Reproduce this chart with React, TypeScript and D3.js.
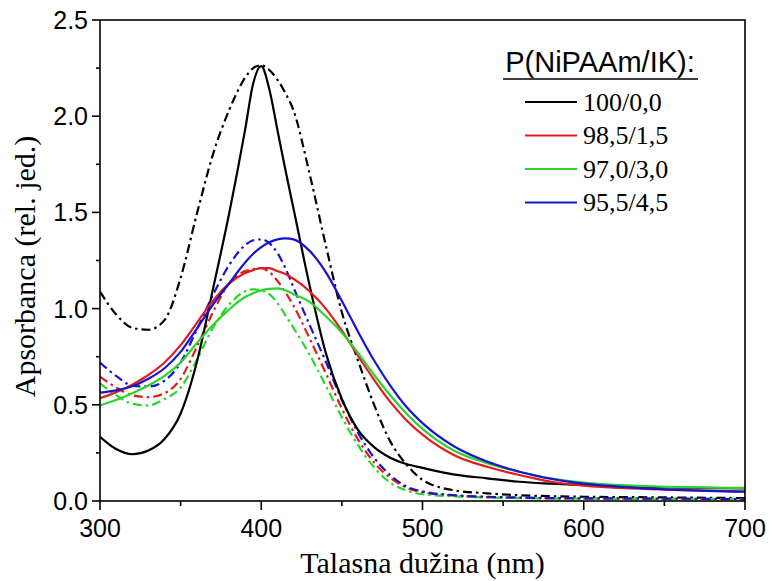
import React from "react";
import * as d3 from "d3";

const wavelengths = [300, 310, 320, 330, 340, 350, 360, 370, 380, 390, 395, 400, 405, 410, 415, 420, 430, 440, 450, 460, 470, 480, 490, 500, 520, 540, 560, 580, 600, 630, 660, 700];

const black100 = [0.334, 0.27, 0.243, 0.262, 0.322, 0.455, 0.72, 1.1, 1.49, 1.93, 2.17, 2.26, 2.14, 1.93, 1.72, 1.52, 1.12, 0.77, 0.53, 0.37, 0.28, 0.225, 0.192, 0.172, 0.137, 0.118, 0.1, 0.09, 0.082, 0.075, 0.07, 0.066];
const black100dd = [1.088, 0.97, 0.9, 0.89, 0.94, 1.16, 1.49, 1.8, 2.03, 2.2, 2.25, 2.265, 2.24, 2.19, 2.12, 2.03, 1.7, 1.33, 0.98, 0.73, 0.5, 0.31, 0.19, 0.11, 0.055, 0.04, 0.03, 0.025, 0.022, 0.02, 0.018, 0.015];
const red985 = [0.534, 0.565, 0.605, 0.655, 0.72, 0.81, 0.925, 1.04, 1.13, 1.185, 1.2, 1.21, 1.21, 1.195, 1.18, 1.155, 1.09, 1.0, 0.885, 0.755, 0.63, 0.515, 0.42, 0.345, 0.237, 0.178, 0.135, 0.1, 0.08, 0.065, 0.057, 0.05];
const red985dd = [0.646, 0.59, 0.55, 0.54, 0.56, 0.635, 0.8, 0.98, 1.13, 1.195, 1.205, 1.21, 1.19, 1.145, 1.085, 1.015, 0.845, 0.665, 0.48, 0.32, 0.2, 0.12, 0.07, 0.045, 0.028, 0.02, 0.016, 0.014, 0.013, 0.012, 0.011, 0.01];
const green970 = [0.497, 0.525, 0.56, 0.6, 0.65, 0.72, 0.82, 0.915, 0.995, 1.06, 1.08, 1.095, 1.103, 1.105, 1.095, 1.075, 1.035, 0.96, 0.875, 0.77, 0.655, 0.55, 0.455, 0.375, 0.26, 0.197, 0.152, 0.117, 0.096, 0.08, 0.072, 0.068];
const green970dd = [0.612, 0.55, 0.505, 0.497, 0.53, 0.59, 0.733, 0.9, 1.02, 1.09, 1.1, 1.095, 1.075, 1.03, 0.965, 0.9, 0.76, 0.6, 0.435, 0.29, 0.175, 0.095, 0.055, 0.035, 0.024, 0.018, 0.015, 0.013, 0.012, 0.011, 0.01, 0.01];
const blue955 = [0.563, 0.575, 0.596, 0.635, 0.69, 0.775, 0.895, 1.02, 1.13, 1.24, 1.285, 1.32, 1.345, 1.36, 1.365, 1.36, 1.3, 1.19, 1.04, 0.88, 0.73, 0.6, 0.49, 0.405, 0.282, 0.205, 0.152, 0.115, 0.09, 0.07, 0.058, 0.048];
const blue955dd = [0.72, 0.65, 0.6, 0.595, 0.625, 0.72, 0.89, 1.07, 1.225, 1.33, 1.355, 1.36, 1.34, 1.29, 1.21, 1.11, 0.915, 0.725, 0.525, 0.355, 0.225, 0.135, 0.075, 0.05, 0.03, 0.022, 0.018, 0.015, 0.014, 0.013, 0.012, 0.01];

const legendTitle = "P(NiPAAm/IK):";
const legendLabels = ["100/0,0", "98,5/1,5", "97,0/3,0", "95,5/4,5"];
const seriesColors = ["#000000", "#e21b1b", "#2bd42b", "#1515d0"];
const solidSeries = [black100, red985, green970, blue955];
const dashSeries = [black100dd, red985dd, green970dd, blue955dd];

const xTicks = [300, 400, 500, 600, 700];
const xMinor = [350, 450, 550, 650];
const yTicks = [0, 0.5, 1.0, 1.5, 2.0, 2.5];
const yMinor = [0.25, 0.75, 1.25, 1.75, 2.25];

const W = 769, H = 581;
const L = 100, R = 745, T = 20, B = 501;

export default function App() {
  const x = d3.scaleLinear().domain([300, 700]).range([L, R]);
  const y = d3.scaleLinear().domain([0, 2.5]).range([B, T]);
  const line = d3
    .line<number>()
    .x((_, i) => x(wavelengths[i]))
    .y((d) => y(d))
    .curve(d3.curveMonotoneX);

  const sans = "'Liberation Sans', Arial, sans-serif";
  const serif = "'Liberation Serif', 'Times New Roman', serif";

  return (
    <svg width={W} height={H} style={{ position: "absolute", left: 0, top: 0, background: "#fff" }}>
      <rect x={0} y={0} width={W} height={H} fill="#fff" />
      <defs>
        <clipPath id="plotclip">
          <rect x={L} y={T} width={R - L} height={B - T} />
        </clipPath>
      </defs>
      <g clipPath="url(#plotclip)">
        {dashSeries.map((s, i) => (
          <path key={"d" + i} d={line(s) || ""} fill="none" stroke={seriesColors[i]} strokeWidth={2.2} strokeDasharray="9,4,2.5,4" />
        ))}
        {solidSeries.map((s, i) => (
          <path key={"s" + i} d={line(s) || ""} fill="none" stroke={seriesColors[i]} strokeWidth={2.2} />
        ))}
      </g>
      <rect x={L} y={T} width={R - L} height={B - T} fill="none" stroke="#000" strokeWidth={1.6} />
      {xTicks.map((t) => (
        <g key={"xt" + t}>
          <line x1={x(t)} x2={x(t)} y1={B} y2={B + 9} stroke="#000" strokeWidth={1.6} />
          <text x={x(t)} y={537} textAnchor="middle" fontFamily={sans} fontSize={25} fill="#000">
            {t}
          </text>
        </g>
      ))}
      {xMinor.map((t) => (
        <line key={"xm" + t} x1={x(t)} x2={x(t)} y1={B} y2={B + 5} stroke="#000" strokeWidth={1.6} />
      ))}
      {yTicks.map((t) => (
        <g key={"yt" + t}>
          <line x1={L - 8} x2={L} y1={y(t)} y2={y(t)} stroke="#000" strokeWidth={1.6} />
          <text x={88} y={y(t) + 9} textAnchor="end" fontFamily={sans} fontSize={25} fill="#000">
            {t.toFixed(1)}
          </text>
        </g>
      ))}
      {yMinor.map((t) => (
        <line key={"ym" + t} x1={L - 4} x2={L} y1={y(t)} y2={y(t)} stroke="#000" strokeWidth={1.6} />
      ))}
      <text x={(L + R) / 2} y={573} textAnchor="middle" fontFamily={serif} fontSize={30} fill="#000">
        Talasna dužina (nm)
      </text>
      <text transform={`translate(35, ${(T + B) / 2 + 6}) rotate(-90)`} textAnchor="middle" fontFamily={serif} fontSize={30} fill="#000">
        Apsorbanca (rel. jed.)
      </text>
      <text x={600} y={72} textAnchor="middle" fontFamily={sans} fontSize={29} fill="#000">
        {legendTitle}
      </text>
      <line x1={503} x2={698} y1={79} y2={79} stroke="#000" strokeWidth={1.5} />
      {legendLabels.map((lab, i) => {
        const ly = 102 + i * 33.5;
        return (
          <g key={"lg" + i}>
            <line x1={525} x2={577} y1={ly} y2={ly} stroke={seriesColors[i]} strokeWidth={2.2} />
            <text x={583} y={ly + 8.5} fontFamily={serif} fontSize={26} fill="#000">
              {lab}
            </text>
          </g>
        );
      })}
    </svg>
  );
}
